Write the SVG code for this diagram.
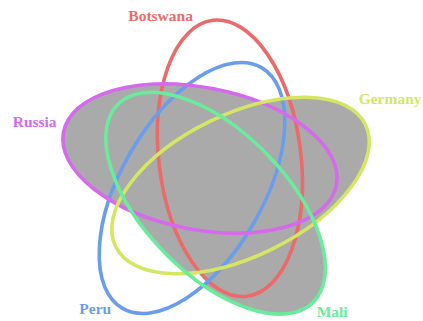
<svg xmlns="http://www.w3.org/2000/svg" width="423" height="321" viewBox="0 0 423 321">
<style>
.fill{fill:#aaaaaa;stroke:none}
.white{fill:#ffffff;stroke:none}
.ring{fill:none;stroke-width:3.6}
.lbl{font-family:"Liberation Serif","Times New Roman",serif;font-weight:bold;font-size:15.5px}
</style>
<defs>
<ellipse id="eB" cx="229.9" cy="158.3" rx="139" ry="71" transform="rotate(83 229.9 158.3)"/>
<ellipse id="eR" cx="200" cy="158.5" rx="139" ry="71" transform="rotate(11 200 158.5)"/>
<ellipse id="eG" cx="240.5" cy="185.5" rx="139" ry="71" transform="rotate(154 240.5 185.5)"/>
<ellipse id="eM" cx="215.6" cy="203.2" rx="139" ry="71" transform="rotate(45.5 215.6 203.2)"/>
<ellipse id="eP" cx="192" cy="188" rx="139" ry="71" transform="rotate(120 192 188)"/>
<clipPath id="cB"><ellipse cx="229.9" cy="158.3" rx="139" ry="71" transform="rotate(83 229.9 158.3)"/></clipPath>
<clipPath id="cG"><ellipse cx="240.5" cy="185.5" rx="139" ry="71" transform="rotate(154 240.5 185.5)"/></clipPath>
<clipPath id="cP"><ellipse cx="192" cy="188" rx="139" ry="71" transform="rotate(120 192 188)"/></clipPath>
</defs>
<rect width="423" height="321" fill="#ffffff"/>
<g id="shading">
<use href="#eG" class="fill"/>
<use href="#eM" class="fill"/>
<g clip-path="url(#cP)"><use href="#eG" class="white"/><use href="#eM" class="white"/></g>
<g clip-path="url(#cP)"><g clip-path="url(#cG)"><use href="#eM" class="fill"/></g></g>
<g clip-path="url(#cB)"><use href="#eG" class="fill"/><use href="#eM" class="fill"/></g>
<use href="#eR" class="fill"/>
</g>
<g id="Botswana"><use href="#eB" class="ring" stroke="#ec6a6a"/><text class="lbl" x="128.3" y="20.5" fill="#ec6a6a">Botswana</text></g>
<g id="Peru"><use href="#eP" class="ring" stroke="#6a9eec"/><text class="lbl" x="79.3" y="314" fill="#6a9eec">Peru</text></g>
<g id="Russia"><use href="#eR" class="ring" stroke="#d56aec"/><text class="lbl" x="12.7" y="126.5" fill="#d56aec">Russia</text></g>
<g id="Germany"><use href="#eG" class="ring" stroke="#d5e762"/><text class="lbl" x="358.7" y="104" fill="#d5e762">Germany</text></g>
<g id="Mali"><use href="#eM" class="ring" stroke="#6aec9c"/><text class="lbl" x="316.7" y="317" fill="#6aec9c">Mali</text></g>
<g id="connectors"/>
</svg>
